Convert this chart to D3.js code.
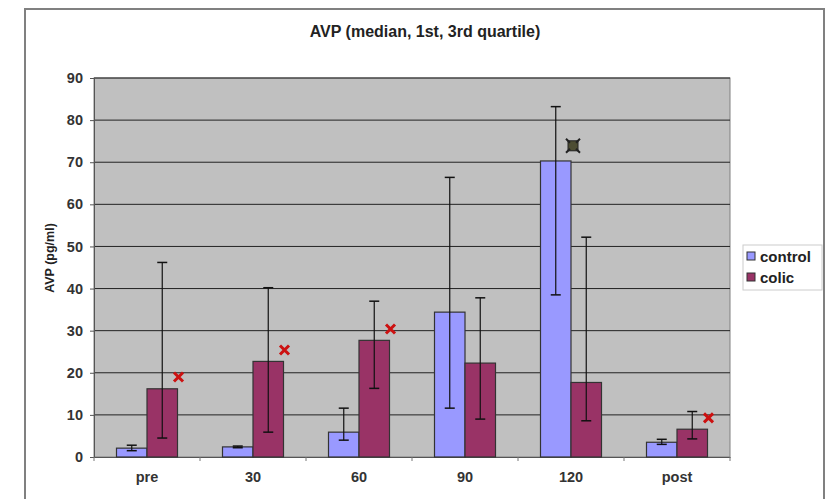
<!DOCTYPE html>
<html>
<head>
<meta charset="utf-8">
<script src="https://cdn.jsdelivr.net/npm/d3@7"></script>
<style>
  body { margin: 0; background: #fff; }
  text { font-family: "Liberation Sans", Arial, sans-serif; }
</style>
</head>
<body>
<svg id="chart" width="828" height="499"></svg>
<script>
// data
const categories = ["pre", "30", "60", "90", "120", "post"];
const series = ["control", "colic"];
const colors = ["#9999ff", "#993366"];

const controlMedian = [2.1, 2.4, 5.9, 34.4, 70.3, 3.5];
const controlQ1     = [1.5, 2.2, 4.0, 11.6, 38.5, 3.0];
const controlQ3     = [2.8, 2.6, 11.6, 66.4, 83.2, 4.2];

const colicMedian = [16.2, 22.7, 27.7, 22.3, 17.7, 6.6];
const colicQ1     = [4.5, 5.9, 16.3, 9.0, 8.6, 4.3];
const colicQ3     = [46.2, 40.2, 37.0, 37.8, 52.2, 10.8];

// significance markers: [category, value]
const crossMarks = [["pre", 19.0], ["30", 25.4], ["60", 30.4], ["post", 9.3]];
const squareMarks = [["120", 73.9]];

const yTicks = [0, 10, 20, 30, 40, 50, 60, 70, 80, 90];

const svg = d3.select("#chart");

// outer frame
svg.append("rect")
    .attr("x", 25).attr("y", 9)
    .attr("width", 799).attr("height", 520)
    .attr("fill", "#fff")
    .attr("stroke", "#808080")
    .attr("stroke-width", 2);

const plot = { left: 94, right: 730, top: 78, bottom: 457 };

const x = d3.scaleBand().domain(categories).range([plot.left, plot.right]);
const xs = d3.scaleBand().domain(series).range([-30.5, 30.5]);
const y = d3.scaleLinear().domain([0, 90]).range([plot.bottom, plot.top]);

// plot background
svg.append("rect")
    .attr("x", plot.left).attr("y", plot.top)
    .attr("width", plot.right - plot.left).attr("height", plot.bottom - plot.top)
    .attr("fill", "#c0c0c0")
    .attr("stroke", "#808080");

// grid
svg.selectAll(".grid")
    .data(yTicks.slice(1))
    .join("line")
    .attr("x1", plot.left).attr("x2", plot.right)
    .attr("y1", d => y(d)).attr("y2", d => y(d))
    .attr("stroke", "#222")
    .attr("stroke-width", 1);

// y axis
const yAxis = svg.append("g")
    .attr("transform", `translate(${plot.left},0)`)
    .call(d3.axisLeft(y).tickValues(yTicks).tickSize(4).tickPadding(7));
yAxis.select(".domain").attr("stroke", "#555");
yAxis.selectAll(".tick line").attr("stroke", "#555");
yAxis.selectAll("text")
    .attr("font-size", 14.5).attr("font-weight", "bold").attr("fill", "#333");

// x axis
const xAxis = svg.append("g")
    .attr("transform", `translate(0,${plot.bottom})`)
    .call(d3.axisBottom(x).tickSize(0).tickPadding(15));
xAxis.select(".domain").attr("stroke", "#555");
xAxis.selectAll("text")
    .attr("font-size", 14.5).attr("font-weight", "bold").attr("fill", "#333");
svg.selectAll(".xtick")
    .data(categories.concat(["end"]))
    .join("line")
    .attr("x1", (d, i) => plot.left + i * x.step())
    .attr("x2", (d, i) => plot.left + i * x.step())
    .attr("y1", plot.bottom).attr("y2", plot.bottom + 4)
    .attr("stroke", "#777");

// bars
const rows = [];
categories.forEach((c, i) => {
    rows.push({ cat: c, s: "control", v: controlMedian[i], lo: controlQ1[i], hi: controlQ3[i] });
    rows.push({ cat: c, s: "colic", v: colicMedian[i], lo: colicQ1[i], hi: colicQ3[i] });
});
const cx = d => x(d.cat) + x.bandwidth() / 2 + xs(d.s);

svg.selectAll(".bar")
    .data(rows)
    .join("rect")
    .attr("x", d => cx(d))
    .attr("y", d => y(d.v))
    .attr("width", xs.bandwidth())
    .attr("height", d => y(0) - y(d.v))
    .attr("fill", d => colors[series.indexOf(d.s)])
    .attr("stroke", "#333")
    .attr("stroke-width", 1.2);

// error bars
const eb = svg.selectAll(".err").data(rows).join("g");
const mid = d => cx(d) + xs.bandwidth() / 2;
eb.append("line")
    .attr("x1", mid).attr("x2", mid)
    .attr("y1", d => y(d.lo)).attr("y2", d => y(d.hi))
    .attr("stroke", "#111").attr("stroke-width", 1.2);
eb.selectAll(".cap")
    .data(d => [d.lo, d.hi].map(v => ({ d, v })))
    .join("line")
    .attr("x1", o => mid(o.d) - 5).attr("x2", o => mid(o.d) + 5)
    .attr("y1", o => y(o.v)).attr("y2", o => y(o.v))
    .attr("stroke", "#111").attr("stroke-width", 1.5);

// markers
const cross = d3.symbol().type(d3.symbolX).size(55);
svg.selectAll(".cross")
    .data(crossMarks)
    .join("path")
    .attr("d", cross)
    .attr("transform", d => `translate(${x(d[0]) + x.bandwidth() / 2 + xs("colic") + xs.bandwidth() + 1},${y(d[1])})`)
    .attr("stroke", "#cc1111")
    .attr("stroke-width", 3)
    .attr("fill", "none");

svg.selectAll(".sq")
    .data(squareMarks)
    .join("g")
    .attr("transform", d => `translate(${x(d[0]) + x.bandwidth() / 2 + xs("control") + xs.bandwidth() + 2},${y(d[1])})`)
    .each(function () {
        const g = d3.select(this);
        g.append("rect").attr("x", -5).attr("y", -5).attr("width", 10).attr("height", 10)
            .attr("fill", "#4d4d33").attr("stroke", "#222").attr("stroke-width", 1);
        g.append("path").attr("d", "M-7,-7L-3,-3M7,-7L3,-3M-7,7L-3,3M7,7L3,3")
            .attr("stroke", "#222").attr("stroke-width", 2);
    });

// title
svg.append("text")
    .attr("x", 425).attr("y", 37)
    .attr("text-anchor", "middle")
    .attr("font-size", 16).attr("font-weight", "bold").attr("fill", "#222")
    .text("AVP (median, 1st, 3rd quartile)");

// y label
svg.append("text")
    .attr("transform", "translate(54,258) rotate(-90)")
    .attr("text-anchor", "middle")
    .attr("font-size", 12.5).attr("font-weight", "bold").attr("fill", "#222")
    .text("AVP (pg/ml)");

// legend
const legend = svg.append("g").attr("transform", "translate(743,245)");
legend.append("rect")
    .attr("width", 79).attr("height", 45)
    .attr("fill", "#fff").attr("stroke", "#ccc");
series.forEach((s, i) => {
    legend.append("rect")
        .attr("x", 4).attr("y", 7 + i * 21)
        .attr("width", 8).attr("height", 8)
        .attr("fill", colors[i]).attr("stroke", "#333");
    legend.append("text")
        .attr("x", 17).attr("y", 17 + i * 21)
        .attr("font-size", 15).attr("font-weight", "bold").attr("fill", "#222")
        .text(s);
});
</script>
</body>
</html>
